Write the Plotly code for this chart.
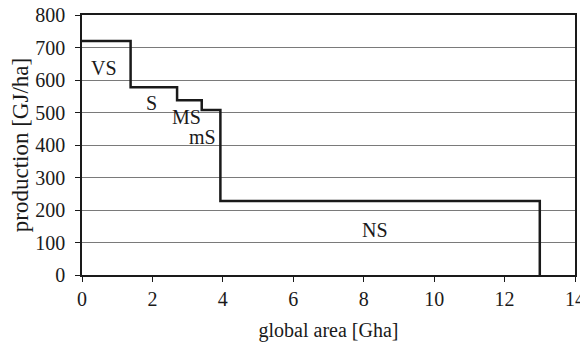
import plotly.graph_objects as go

# Data
boundaries = [0, 1.38, 2.7, 3.4, 3.93, 13]          # global area [Gha], cumulative
production = [720, 578, 538, 508, 228]              # GJ/ha per class
class_labels = ["VS", "S", "MS", "mS", "NS"]
label_x = [0.62, 1.97, 2.96, 3.43, 8.33]
label_y = [637, 529, 487, 425, 138]

x_ticks = [0, 2, 4, 6, 8, 10, 12, 14]
y_ticks = [0, 100, 200, 300, 400, 500, 600, 700, 800]

font_family = "Liberation Serif"
ink = "#1a1a1a"

fig = go.Figure()
fig.add_trace(go.Scatter(
    x=boundaries,
    y=production + [0],
    mode="lines",
    line=dict(shape="hv", color=ink, width=2.5),
    hoverinfo="skip",
    showlegend=False,
))

for t, xx, yy in zip(class_labels, label_x, label_y):
    fig.add_annotation(x=xx, y=yy, text=t, showarrow=False,
                       font=dict(family=font_family, size=20, color=ink))

# page body has an 8px default margin, so the figure is sized to fit the window
fig.update_layout(
    width=580, height=334,
    margin=dict(l=74, r=13, t=7, b=67),
    paper_bgcolor="white", plot_bgcolor="white",
    font=dict(family=font_family, size=20, color=ink),
    showlegend=False,
)
fig.update_xaxes(
    range=[0, 14], tickvals=x_ticks, showgrid=False, zeroline=False,
    showline=True, linecolor=ink, linewidth=1.5, mirror=True,
    ticks="outside", ticklen=5, tickcolor=ink, automargin=False,
    ticklabeloverflow="allow",
    tickfont=dict(family=font_family, size=20, color=ink),
    title=dict(text="global area [Gha]", standoff=15,
               font=dict(family=font_family, size=20, color=ink)),
)
fig.update_yaxes(
    range=[0, 800], tickvals=y_ticks, showgrid=True, gridcolor="#7a7a7a", gridwidth=1,
    zeroline=False,
    showline=True, linecolor=ink, linewidth=1.5, mirror=True,
    ticks="outside", ticklen=5, tickcolor=ink, automargin=False,
    ticklabelstandoff=6, ticklabeloverflow="allow",
    tickfont=dict(family=font_family, size=20, color=ink),
    title=dict(text="production [GJ/ha]", standoff=4,
               font=dict(family=font_family, size=23, color=ink)),
)

fig.write_html("out.html")
